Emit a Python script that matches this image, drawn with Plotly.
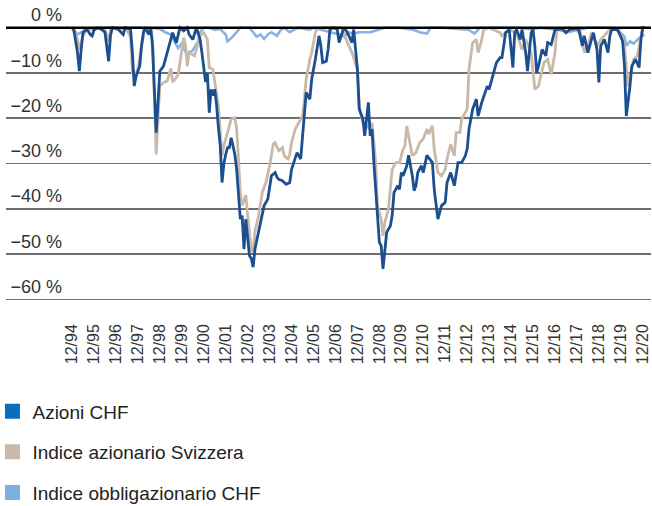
import plotly.graph_objects as go

# ---------------- data (months since 12/1994, drawdown in %) ----------------
azioni_months = [0, 1, 3, 4, 5, 6, 8, 10, 11, 12, 14, 16, 18, 19, 20, 21, 22, 25, 28, 29, 32, 33, 34, 35, 37, 38, 39, 40,
                 42, 43, 44, 46, 47, 48, 50, 52, 54, 55, 57, 59, 61, 63, 64, 66, 68, 70, 71, 72, 73, 74, 75, 76, 77, 78,
                 79, 80, 81, 82, 83, 84, 85, 86, 87, 88, 89, 90, 91, 92, 93, 94, 95, 96, 97, 98, 99, 100, 101, 102, 104,
                 105, 107, 108, 109, 111, 112, 113, 115, 117, 119, 120, 122, 123, 125, 126, 127, 128, 130, 131, 133, 134,
                 135, 136, 137, 139, 140, 141, 143, 145, 146, 148, 149, 151, 153, 154, 155, 156, 157, 159, 160, 161, 162,
                 163, 164, 165, 166, 167, 168, 169, 170, 172, 174, 175, 176, 177, 178, 179, 180, 181, 183, 184, 186, 187,
                 188, 189, 191, 192, 194, 197, 198, 200, 202, 204, 205, 207, 209, 211, 213, 215, 216, 217, 219, 221, 222,
                 224, 227, 228, 230, 232, 234, 235, 236, 237, 239, 241, 242, 243, 245, 246, 248, 249, 251, 252, 253, 254,
                 255, 257, 259, 260, 262, 264, 265, 268, 270, 272, 275, 277, 279, 280, 282, 284, 285, 287, 288, 289, 291,
                 293, 294, 295, 298, 299, 301, 302, 303, 305, 306, 308, 310, 311, 312, 313]
azioni = [0, -0.5, -5.5, -9.6, -4.8, -1.1, -0.3, -1.5, -1.8, -0.5, 0, -0.3, -1, -4, -7.4, -1.8, 0, -0.3, -1.5, 0, -0.4,
          -5.5, -12.9, -10.7, -8.5, -4, -1, 0, -1.5, 0, -4, -23.2, -16.5, -9.6, -8.5, -5.5, -2.6, -1.1, -3.3, 0, -0.7, 0,
          -1.5, -2.6, 0, -2.6, -5.5, -9.2, -12, -10, -18.8, -13.6, -15, -13.6, -17, -22, -26, -34.2, -30, -28, -26.5,
          -26.5, -24.3, -26.1, -28, -31.3, -36.4, -42.3, -41.5, -48.9, -42.3, -46, -50.4, -51, -52.9, -48.9, -47, -45.2,
          -40.8, -39.3, -37.9, -35.7, -32.7, -32, -33, -33.5, -33.8, -34.6, -34.2, -31.3, -29, -27.6, -29, -23.9, -19.5,
          -14.3, -15.8, -11.4, -7, -4, -1.8, -4, -7.7, -7.4, -4.8, -0.4, 0, -0.4, -3.3, -0.7, 0, -1.5, -3.3, -0.4, -5.5,
          -9.2, -18, -20.2, -23.9, -19.5, -16.5, -23.9, -22.4, -29.8, -35, -41.5, -47.4, -48.2, -53.3, -45.2, -43.8,
          -41.5, -36.4, -35.7, -34.9, -35.7, -32, -32.7, -30.5, -28.2, -32.7, -36, -34.9, -32, -30.5, -32, -28.2, -29.8,
          -35.7, -42.3, -39.3, -38.6, -34.2, -32, -34.9, -29.8, -29.8, -28.3, -26.8, -22.4, -18, -15.8, -19.5, -16.5,
          -12.9, -13.6, -10.7, -7.7, -6.6, -6.6, -4, -1.1, -0.4, -8.8, -1.1, -0.4, -2.6, -0.4, -5.5, -9.6, -1.1, -0.4,
          -4, -9.9, -8.5, -4.8, -6.2, -3.3, -3.7, -0.4, -0.4, -0.2, -1.1, -0.4, -0.2, -0.4, -4, -1.8, -5.5, -2.6, -1.1,
          -4.8, -12.1, -4, -2.6, -5.5, -1.8, -0.4, -0.4, -1.1, -3, -8.5, -19.5, -12.9, -8.5, -7, -8.8, -2.6, 0, 0]

indice_months = [0, 3, 4, 6, 8, 12, 18, 20, 21, 24, 30, 32, 33, 34, 36, 38, 40, 43, 44, 46, 47, 48, 50, 52, 54, 55, 58,
                 60, 61, 62, 63, 64, 67, 70, 72, 74, 75, 77, 78, 80, 82, 83, 85, 86, 87, 89, 90, 91, 92, 93, 95, 96, 98,
                 99, 100, 102, 104, 106, 108, 110, 111, 113, 115, 116, 118, 119, 120, 122, 123, 126, 127, 128, 130, 131,
                 133, 134, 140, 147, 149, 152, 153, 156, 157, 159, 161, 163, 164, 166, 167, 169, 170, 171, 173, 175, 177,
                 179, 181, 182, 183, 185, 186, 188, 190, 192, 194, 195, 197, 198, 200, 202, 204, 205, 207, 209, 210, 212,
                 213, 216, 217, 219, 221, 222, 224, 225, 228, 234, 235, 239, 243, 246, 248, 251, 253, 255, 257, 258, 260,
                 262, 264, 265, 272, 278, 280, 282, 284, 287, 289, 291, 294, 299, 302, 304, 306, 307, 309, 311, 312, 313]
indice = [0, -2.6, -4.8, -1.8, -0.3, 0, -0.5, -3, -0.3, 0, -0.5, -2, -9.9, -10.7, -9.2, -4, 0, -0.3, -2.6, -28, -20.2,
          -12.9, -12.1, -11.8, -9, -12, -10.5, -4.8, -2.2, -3.7, -8.5, -5.5, -6.2, -1.8, -1.1, -2.6, -8.8, -9.2, -12,
          -17.3, -28.3, -26, -23.2, -21.7, -20.2, -19.9, -22.4, -29, -36.4, -39.3, -37, -41.5, -48.9, -49.6, -45, -41.5,
          -36.4, -34.2, -30.5, -25.7, -25.4, -27.2, -26.5, -28.3, -29, -28, -25.4, -22.4, -21.7, -19.5, -15.8, -11.4,
          -7, -5.5, -1.1, 0, 0, 0, -1.8, -4.8, -5.5, -9.2, -17.3, -21, -21.7, -22.4, -21, -29.8, -39.3, -42.3, -46, -43,
          -40, -31.3, -29.8, -29.8, -26.8, -26.1, -21.7, -26.1, -28.3, -27.6, -25.4, -24.6, -22.4, -23.5, -21.7, -26.8,
          -32, -32.7, -31.3, -29, -25.7, -28.3, -23.2, -23.2, -20.2, -18, -9.2, -3.3, -2.6, -5.5, -2.6, -0.4, 0, -1.1,
          -1.8, -0.4, -1.1, -4.8, -2.6, -5.5, -13.6, -12.9, -9.2, -7.7, -7, -10.3, -5.5, -0.4, 0, -1.1, -5.5, -4, -1.1,
          -4, -2.6, -1.8, -0.4, -0.4, -4, -12.9, -8.5, -7, -6.2, -1.8, 0, 0]

obblig_months = [0, 3, 7, 12, 15, 38, 40, 43, 48, 51, 54, 56, 58, 60, 62, 63, 64, 66, 67, 69, 70, 72, 75, 78, 81, 84, 85,
                 87, 90, 92, 97, 99, 101, 103, 105, 107, 109, 112, 114, 116, 119, 122, 124, 130, 132, 146, 149, 151, 154,
                 157, 163, 167, 171, 179, 187, 190, 194, 196, 203, 217, 220, 223, 245, 251, 256, 266, 271, 277, 282, 296,
                 299, 302, 303, 305, 307, 310, 313]
obblig = [0, -1.5, -0.5, -0.3, 0, 0, -0.5, 0, -0.3, -1, -1.5, -3, -4.5, -3.5, -5.5, -6.2, -5.5, -5, -4.3, -3, -1, 0, 0,
          -0.5, -0.3, -1.5, -3, -2.3, -1, 0, 0, -1, -2, -1.5, -2.5, -1.5, -1, -1.8, -0.5, 0, -1, -0.3, 0, -0.5, 0, -1.5,
          -2, -1, -1.3, -1, -1, -0.5, 0, 0, -0.5, -1, -1.3, 0, 0, -0.5, -1.3, 0, 0, -0.4, 0, -0.5, -1, -0.5, 0, 0, -0.8,
          -2, -4, -3, -3.5, -2.3, -1.5]

tick_months = [0, 12, 24, 36, 48, 60, 72, 84, 96, 108, 120, 132, 144, 156, 168, 180, 192, 204, 216, 228, 240, 252, 264,
               276, 288, 300, 312]
tick_labels = ["12/94", "12/95", "12/96", "12/97", "12/98", "12/99", "12/00", "12/01", "12/02", "12/03", "12/04",
               "12/05", "12/06", "12/07", "12/08", "12/09", "12/10", "12/11", "12/12", "12/13", "12/14", "12/15",
               "12/16", "12/17", "12/18", "12/19", "12/20"]
y_ticks = [0, -10, -20, -30, -40, -50, -60]
y_labels = ["0 %", "\u221210 %", "\u221220 %", "\u221230 %", "\u221240 %", "\u221250 %", "\u221260 %"]

series_names = ["Azioni CHF", "Indice azionario Svizzera", "Indice obbligazionario CHF"]
line_colors = ["#1c4f8f", "#c8b9aa", "#86b3e3"]
legend_colors = ["#0a6dbd", "#c8b9aa", "#7fafe0"]

FONT = "Liberation Sans, Arial, sans-serif"

fig = go.Figure()
fig.add_trace(go.Scatter(x=obblig_months, y=obblig, mode="lines", line=dict(color=line_colors[2], width=2.6),
                         showlegend=False, hoverinfo="skip"))
fig.add_trace(go.Scatter(x=indice_months, y=indice, mode="lines", line=dict(color=line_colors[1], width=2.8),
                         showlegend=False, hoverinfo="skip"))
fig.add_trace(go.Scatter(x=azioni_months, y=azioni, mode="lines", line=dict(color=line_colors[0], width=2.8),
                         showlegend=False, hoverinfo="skip"))

for i, name in enumerate(series_names):
    fig.add_trace(go.Scatter(x=[None], y=[None], mode="markers", name=name, legendgroup=f"g{i}",
                             marker=dict(symbol="square", size=15, color=legend_colors[i])))

fig.add_shape(type="line", xref="paper", x0=0, x1=1, yref="y", y0=0, y1=0,
              line=dict(color="#000000", width=2.5), layer="above")

fig.update_layout(
    width=652, height=506,
    margin=dict(l=6, r=1, t=25, b=204, autoexpand=False),
    paper_bgcolor="white", plot_bgcolor="white",
    font=dict(family=FONT, color="#333333"),
    xaxis=dict(range=[-36.1, 316.5], tickmode="array", tickvals=tick_months, ticktext=tick_labels,
               tickangle=-90, tickfont=dict(size=16, color="#333333"), showgrid=False, zeroline=False,
               showline=False, ticks="", ticklabelstandoff=18, automargin=False),
    yaxis=dict(range=[-60.6, 0.6], tickmode="array", tickvals=y_ticks, ticktext=y_labels,
               anchor="free", position=0.0868, side="left",
               ticklabelposition="outside top", ticklabeloverflow="allow", ticklabelstandoff=0,
               tickfont=dict(size=18, color="#333333"), showgrid=True, gridcolor="#6f6f6f", gridwidth=1.5,
               zeroline=False, showline=False, ticks="", automargin=False),
    legend=dict(x=-0.021, xanchor="left", y=-0.326, yanchor="top", orientation="v",
                font=dict(size=19, color="#222222", family=FONT), tracegroupgap=13,
                bgcolor="rgba(0,0,0,0)"),
    showlegend=True,
)

fig.write_html("out.html", config={"displayModeBar": False, "staticPlot": True},
               post_script="document.body.style.margin='0';document.body.style.overflow='hidden';")
